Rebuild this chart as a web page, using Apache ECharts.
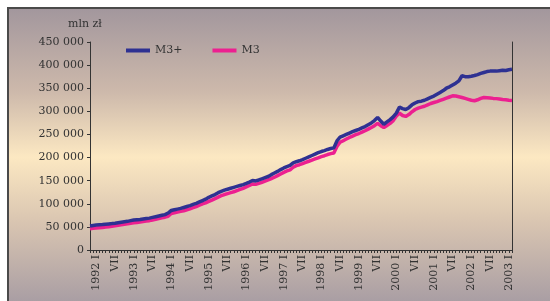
<!DOCTYPE html>
<html>
<head>
<meta charset="utf-8">
<script src="https://cdn.jsdelivr.net/npm/echarts@6/dist/echarts.min.js"></script>
<style>
  html, body { margin: 0; padding: 0; background: #fff; }
  #wrap { position: relative; width: 550px; height: 301px; overflow: hidden; }
  #frame { position: absolute; left: 7px; top: 7px; width: 545px; height: 296px;
    border-top: 2px solid #4a4a4a; border-left: 2px solid #4a4a4a;
    background: linear-gradient(to bottom, #a3979d 0%, #cdb9ab 28%, #fce8c2 50%, #d9c5b1 72%, #a79ca3 100%); }
  #chart { position: absolute; left: 0; top: 0; width: 550px; height: 301px; }
</style>
</head>
<body>
<div id="wrap"><div id="frame"></div><div id="chart"></div></div>
<script>
// monthly M3+ / M3, mln zł, Nov 1991 .. Feb 2003
const START_YEAR = 1991, START_MONTH = 11, N_MONTHS = 136;
const MONTH_LABELS = { 1: "I", 7: "VII" };
const SERIES_NAMES = ["M3+", "M3"];

const M3_PLUS = [
  52000, 53000,
  54000, 54500, 55000, 55800, 56500, 57200, 58000, 59000, 60000, 61000, 62000, 63500,
  65000, 65500, 66000, 67000, 68000, 69000, 70500, 72000, 73500, 75000, 76500, 80000,
  85500, 87000, 88500, 90000, 92000, 94000, 96000, 98500, 101000, 104000, 107000, 110000,
  114000, 117000, 120000, 124000, 127000, 129500, 131500, 133500, 135500, 137500, 139500, 141500,
  144000, 147000, 150500, 149500, 151500, 154000, 156500, 159000, 163000, 166500, 170000, 174000,
  177500, 180500, 183000, 188500, 191000, 193000, 195500, 198500, 201500, 204500, 207500, 210500,
  213000, 215000, 217500, 219500, 221000, 236000, 244000, 247000, 250000, 253000, 256000, 258500,
  261000, 264000, 267000, 271000, 275000, 280000, 287000, 279000, 272000, 277000, 282000, 288000,
  296000, 309000, 306000, 304000, 308000, 314000, 318000, 321000, 322000, 324000, 327000, 330000,
  333000, 337000, 341000, 345000, 350000, 353000, 357000, 361000, 366000, 377000, 375000, 375000,
  376000, 377500, 379500, 382000, 384000, 386000, 387000, 387500, 387000, 388000, 389000, 388500,
  390000, 391000
];
const M3 = [
  46000, 47000,
  47500, 48000, 48500, 49500, 50500, 51500, 52500, 53500, 54500, 55500, 56500, 58000,
  59000, 59500, 60500, 61500, 62500, 63500, 65000, 66500, 68000, 69500, 71000, 73000,
  79000, 80500, 82000, 83500, 85000, 87000, 89000, 91500, 94000, 97000, 100000, 102000,
  105000, 108000, 111000, 114500, 117500, 120000, 122000, 124000, 126000, 128500, 131000, 133500,
  136500, 139500, 143000, 142000, 144000, 146500, 149000, 151500, 154500, 157500, 161000, 164500,
  168000, 171000, 173500, 179000, 182500, 184500, 187000, 189500, 192000, 194500, 197000, 199500,
  202000, 204000, 206500, 208500, 210000, 224000, 233000, 236500, 240000, 243500, 246500, 249500,
  252000, 255000, 258000, 261500, 265000, 269000, 274000, 269000, 265000, 269500, 274000, 280000,
  290000, 296000, 291000, 289000, 293000, 299000, 304000, 307000, 309000, 311000, 314000, 317000,
  319000, 321000, 323500, 326000, 328500, 331000, 333500, 333000, 331500, 330000, 328000, 326000,
  324000, 323000, 325000, 328000, 330000, 329500, 329000, 328000, 327500, 326500, 325500, 325000,
  324000, 323500
];

const CATS = [];
for (let i = 0; i < N_MONTHS; i++) {
  const t = (START_MONTH - 1) + i;
  CATS.push({ y: START_YEAR + Math.floor(t / 12), m: (t % 12) + 1 });
}
const catKey = (c) => c.y + "-" + c.m;

const FONT = "DejaVu Serif";
const INK = "#333";
const fmt = (v) => String(v).replace(/\B(?=(\d{3})+(?!\d))/g, " ");

const chart = echarts.init(document.getElementById("chart"));
chart.setOption({
  animation: false,
  backgroundColor: "transparent",
  grid: { left: 90, right: 38, top: 42, bottom: 51 },
  graphic: [{ type: "text", left: 68, top: 19, style: { text: "mln zł", font: "11px " + FONT, fill: INK } }],
  legend: {
    left: 121, top: 40, itemWidth: 24, itemHeight: 4, itemGap: 30, icon: "rect",
    textStyle: { fontFamily: FONT, fontSize: 11, color: INK, padding: [0, 0, 0, 0] },
    data: SERIES_NAMES
  },
  xAxis: {
    type: "category", boundaryGap: false, data: CATS.map(catKey),
    axisLine: { lineStyle: { color: INK, width: 1 } },
    axisTick: { show: true, interval: 0, length: 3, lineStyle: { color: INK } },
    axisLabel: {
      rotate: 90, margin: 5, fontFamily: FONT, fontSize: 11, color: INK,
      interval: (i) => !!MONTH_LABELS[CATS[i].m],
      formatter: (v, i) => { const c = CATS[i]; return c.m === 1 ? c.y + " I" : MONTH_LABELS[c.m] || ""; }
    },
    splitLine: { show: false }
  },
  yAxis: [{
    type: "value", min: 0, max: 450000, interval: 50000,
    axisLine: { show: true, lineStyle: { color: INK, width: 1 } },
    axisTick: { show: true, length: 3, lineStyle: { color: INK } },
    axisLabel: { margin: 6, fontFamily: FONT, fontSize: 11, color: INK, formatter: fmt },
    splitLine: { show: false }
  }, {
    type: "value", min: 0, max: 450000, position: "right",
    axisLine: { show: true, lineStyle: { color: INK, width: 1 } },
    axisTick: { show: false }, axisLabel: { show: false }, splitLine: { show: false }
  }],
  series: [
    { name: SERIES_NAMES[0], type: "line", data: M3_PLUS, showSymbol: false, color: "#2e3192",
      lineStyle: { width: 3.5, color: "#2e3192" }, z: 3 },
    { name: SERIES_NAMES[1], type: "line", data: M3, showSymbol: false, color: "#ec2090",
      lineStyle: { width: 3.5, color: "#ec2090" }, z: 2 }
  ]
});
</script>
</body>
</html>
